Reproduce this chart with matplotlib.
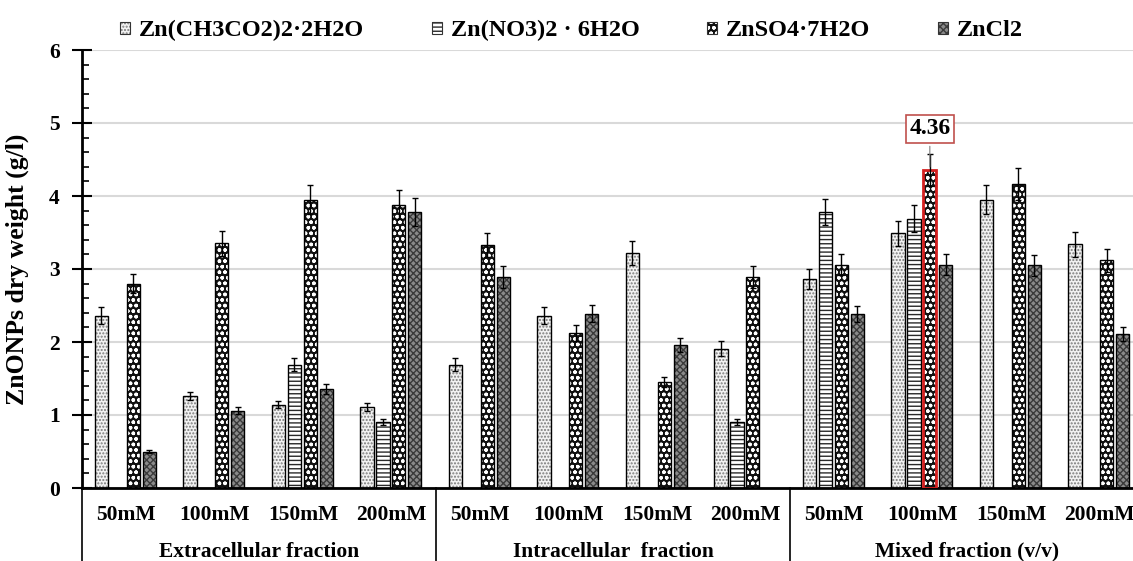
import matplotlib
matplotlib.use('Agg')
import matplotlib.pyplot as plt
import matplotlib.transforms as mtransforms
from matplotlib.patches import Patch
from matplotlib.ticker import MultipleLocator
import numpy as np

plt.rcParams['font.family'] = ['Liberation Serif', 'DejaVu Serif']
plt.rcParams['font.weight'] = 'bold'
plt.rcParams['hatch.linewidth'] = 1.0

# data
concentrations = ['50mM', '100mM', '150mM', '200mM']
fractions = ['Extracellular fraction', 'Intracellular  fraction', 'Mixed fraction (v/v)']
salts = ['Zn(CH3CO2)2·2H2O', 'Zn(NO3)2 · 6H2O', 'ZnSO4·7H2O', 'ZnCl2']

acetate = [2.36, 1.26, 1.14, 1.11, 1.69, 2.36, 3.22, 1.91, 2.86, 3.49, 3.95, 3.34]
acetate_err = [0.12, 0.06, 0.05, 0.06, 0.09, 0.12, 0.16, 0.10, 0.14, 0.17, 0.20, 0.17]
nitrate = [0, 0, 1.69, 0.90, 0, 0, 0, 0.90, 3.78, 3.69, 0, 0]
nitrate_err = [0, 0, 0.09, 0.04, 0, 0, 0, 0.04, 0.18, 0.18, 0, 0]
sulfate = [2.80, 3.35, 3.95, 3.88, 3.33, 2.12, 1.45, 2.89, 3.06, 4.36, 4.17, 3.12]
sulfate_err = [0.13, 0.17, 0.20, 0.20, 0.17, 0.11, 0.07, 0.15, 0.14, 0.22, 0.22, 0.16]
chloride = [0.50, 1.06, 1.36, 3.78, 2.89, 2.39, 1.96, 0, 2.39, 3.06, 3.05, 2.11]
chloride_err = [0.02, 0.05, 0.07, 0.19, 0.15, 0.12, 0.10, 0, 0.11, 0.14, 0.14, 0.10]

highlight = (2, 9)  # series, category of the boxed max value

series = [acetate, nitrate, sulfate, chloride]
errors = [acetate_err, nitrate_err, sulfate_err, chloride_err]
# face colour, hatch, hatch colour
styles = [
    ('#f2f2f2', '.....', '#7a7a7a'),
    ('white', '----', '#2a2a2a'),
    ('#111111', 'ooo', 'white'),
    ('#8a8a8a', 'xxxxx', '#3a3a3a'),
]

fig = plt.figure(figsize=(11.33, 5.61), dpi=100)
ax = fig.add_axes([82 / 1133, 1 - 488 / 561, 1062 / 1133, 438 / 561])

n_cat = len(concentrations) * len(fractions)
x = np.arange(n_cat)
step = 0.18
width = 0.15

for s, (vals, errs) in enumerate(zip(series, errors)):
    face, hatch, hcol = styles[s]
    idx = [i for i in range(n_cat) if vals[i] > 0]
    xs = x[idx] + (s - 1.5) * step - 0.01
    hs = [vals[i] for i in idx]
    es = [errs[i] for i in idx]
    ax.bar(xs, hs, width, color=face, hatch=hatch, edgecolor=hcol, linewidth=0, zorder=2)
    edges = ['#d42020' if (s, i) == highlight else 'black' for i in idx]
    lws = [2.0 if (s, i) == highlight else 1.0 for i in idx]
    ax.bar(xs, hs, width, fill=False, edgecolor=edges, linewidth=lws, zorder=3)
    ax.errorbar(xs, hs, yerr=es, fmt='none', ecolor='black', elinewidth=1.0,
                capsize=2, capthick=1.0, zorder=4)

# boxed label for the max value
s, i = highlight
xh = i + (s - 1.5) * step - 0.01
ax.annotate(f'{series[s][i]:.2f}', xy=(xh, series[s][i]), xytext=(xh, 4.92),
            ha='center', va='center', fontsize=17, fontweight='bold',
            bbox=dict(boxstyle='square,pad=0.15', fc='white', ec='#c0504d', lw=1.2),
            arrowprops=dict(arrowstyle='-', color='#808080', lw=0.8), zorder=5)

ax.set_xlim(-0.5, n_cat - 0.5)
ax.set_ylim(0, 6)
ax.set_yticks(range(7))
ax.yaxis.set_minor_locator(MultipleLocator(0.2))
ax.tick_params(axis='y', which='major', direction='inout', length=14, width=1.5,
               labelsize=15.5, pad=9)
ax.tick_params(axis='y', which='minor', direction='in', length=5, width=1.2)
for lab in ax.get_yticklabels():
    lab.set_fontweight('bold')

ax.set_xticks(x)
ax.set_xticklabels(concentrations * len(fractions), fontsize=15.5, fontweight='bold')
ax.tick_params(axis='x', length=0, pad=12)

ax.yaxis.grid(True, color='#d9d9d9', lw=1.5)
ax.set_axisbelow(True)
for side in ['top', 'right']:
    ax.spines[side].set_visible(False)
ax.spines['left'].set_linewidth(2)
ax.spines['bottom'].set_linewidth(2)

ax.set_ylabel('ZnONPs dry weight (g/l)', fontsize=18.5, fontweight='bold')
ax.yaxis.set_label_coords(-0.05, 0.5)

# category table under the axis
trans = mtransforms.blended_transform_factory(ax.transData, ax.transAxes)
for b in np.arange(-0.5, n_cat, len(concentrations)):
    ax.plot([b, b], [0, -0.2], transform=trans, clip_on=False, color='black', lw=1.2)
for g, name in enumerate(fractions):
    xc = g * len(concentrations) + (len(concentrations) - 1) / 2
    ax.text(xc, -0.146, name, transform=trans, ha='center', va='center',
            fontsize=15.5, fontweight='bold')

handles = []
for face, hatch, hcol in styles:
    handles.append((Patch(facecolor=face, hatch=hatch, edgecolor=hcol, linewidth=0),
                    Patch(fill=False, edgecolor='#333333', linewidth=0.8)))
fig.legend(handles, salts, loc='center', bbox_to_anchor=(0.5044, 0.945), ncol=4,
           frameon=False, handlelength=0.4, handleheight=0.4,
           handletextpad=0.37, columnspacing=2.8,
           prop={'weight': 'bold', 'size': 17.5})

fig.savefig('out.png', dpi=100)
